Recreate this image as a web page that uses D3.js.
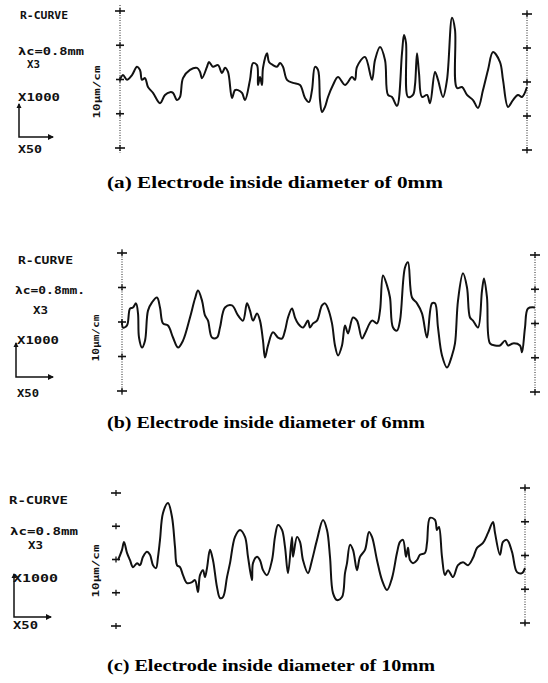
<!DOCTYPE html>
<html><head><meta charset="utf-8">
<script src="https://cdn.jsdelivr.net/npm/d3@7"></script>
<style>body{margin:0;background:#fff}svg{display:block}</style>
</head><body>
<svg id="c" width="548" height="683"></svg>
<script>
// Profile data: position along trace (arbitrary units), height in tick-units x10
const posA = [0,3,7,12,17,20,22,25,28,33,40,45,50,53,57,60,63,70,77,80,82,87,89,93,98,102,105,108,112,115,118,122,125,130,133,137,138,140,142,143,147,149,153,157,160,163,167,173,180,185,189,192,195,198,200,202,205,208,213,218,225,232,235,237,245,252,255,260,265,268,272,277,282,284,286,288,293,295,297,299,302,307,310,315,318,323,327,332,335,337,342,347,353,358,363,368,373,380,383,388,393,398,402,407];
const hA = [-0.1,1.3,-0.1,1.3,3.7,2.8,-0.1,0.4,-2.2,-3.9,-6.9,-4.5,-3.7,-3.9,-6.0,-5.1,0.4,2.8,3.4,2.2,0.4,3.7,5.1,3.7,4.2,1.9,3.4,2.2,-5.4,-3.1,-3.1,-3.9,-6.0,-0.1,4.8,4.2,-1.6,0.7,-1.6,3.4,7.7,5.1,4.2,3.7,4.8,3.7,-0.1,-1.0,-1.6,-5.4,-6.6,-3.1,3.7,2.8,-6.0,-9.5,-8.0,-5.1,-1.6,0.7,-1.6,0.7,-0.1,3.7,6.6,-0.1,5.7,9.5,5.7,-4.5,-5.1,-7.7,7.7,13.0,10.7,-5.1,-4.5,-1.6,7.7,1.9,-5.1,-4.5,-6.9,2.2,-0.1,-5.1,-0.1,18.0,14.5,-2.5,-2.2,-4.5,-6.0,-8.3,-3.1,2.8,8.0,5.1,-0.1,-8.0,-6.0,-4.5,-5.1,-2.2];

const posB = [0,1,5,8,11,14,16,17,20,23,26,30,35,38,41,46,51,56,61,68,73,76,80,83,86,90,95,98,103,110,116,121,125,128,131,135,138,141,143,146,151,156,160,163,166,170,173,176,181,186,188,191,195,200,203,206,210,213,216,220,223,226,231,235,240,243,250,255,258,261,265,268,271,275,278,283,286,290,295,300,305,310,313,316,320,325,330,333,336,341,345,348,351,356,360,362,365,368,373,378,383,386,391,398,400,403,406,413];
const hB = [0.4,-1.6,-1.0,3.9,4.2,5.4,2.5,-4.5,-7.4,-5.4,3.3,5.7,7.1,4.2,-0.4,-1.0,-4.5,-7.4,-5.4,1.3,6.8,9.1,6.2,1.9,0.4,-4.5,-4.5,-1.6,4.2,4.8,1.9,0.4,5.4,3.3,0.4,2.5,0.4,-5.4,-10.3,-6.8,-3.0,-4.5,-4.8,-2.5,1.3,3.9,1.3,-0.4,-1.6,0.4,-1.6,-0.4,0.4,4.8,5.4,3.9,-0.4,-6.8,-9.7,-6.8,-1.0,-3.3,1.3,0.4,-4.8,-3.3,0.4,-0.4,3.3,13.5,10.6,7.1,-1.6,-2.5,0.4,15.8,17.3,7.1,5.4,2.5,-4.5,5.4,5.4,-1.6,-9.7,-13.2,-9.7,-6.2,6.2,14.1,10.0,1.3,0.4,-1.6,9.1,12.6,7.1,-6.2,-6.8,-6.8,-5.4,-6.8,-6.2,-6.8,-8.8,-1.6,3.9,4.2];

const posC = [2,6,8,11,14,17,21,24,27,31,34,37,40,42,44,47,52,56,59,61,64,67,71,76,79,82,84,87,89,91,94,97,101,104,107,111,114,119,124,129,132,136,137,141,144,147,151,156,159,162,166,169,172,176,177,181,184,187,192,196,201,207,211,214,217,221,226,229,231,234,237,241,244,249,253,256,261,266,271,276,281,284,287,290,292,294,297,301,304,309,311,314,319,321,323,326,329,332,337,342,347,352,357,361,367,372,377,379,384,387,391,396,401,406,409];
const hC = [-0.2,2.9,5.3,2.0,-0.2,-2.3,-1.1,-1.7,0.8,2.3,1.4,-1.7,-2.6,0.8,5.9,14.0,17.0,12.8,3.8,-1.7,-2.3,-4.7,-7.1,-6.8,-6.2,-9.8,-4.7,-3.2,-5.3,-2.6,2.9,-0.2,-8.3,-11.6,-11.3,-5.3,-1.1,6.8,8.9,6.8,0.8,-6.2,-1.1,0.8,-0.2,-3.2,-4.7,-0.2,6.8,10.4,8.9,3.8,-4.1,6.8,0.8,6.8,5.3,-0.2,-4.1,-0.2,5.9,11.9,8.9,0.8,-10.1,-12.2,-11.3,-4.1,-1.1,4.4,2.9,-3.2,0.8,2.9,8.3,6.8,-0.2,-6.2,-9.2,-5.6,2.0,5.3,5.9,0.8,3.5,-0.2,-1.1,-0.2,1.4,2.0,5.0,12.5,11.9,8.9,9.8,0.8,-4.7,-3.2,-5.3,-1.7,-0.8,-1.7,0.5,3.5,5.0,8.0,11.3,8.0,1.4,5.3,5.9,2.3,-3.8,-4.1,-2.6];

const tickVals = [-20,-10,0,10,20];
const captions = ["(a) Electrode inside diameter of 0mm","(b) Electrode inside diameter of 6mm","(c) Electrode inside diameter of 10mm"];
const labels = ["R-CURVE","λc=0.8mm","X3","X1000","X50"];
const unitLabel = "10μm/cm";

const panels = [
  {pos:posA, h:hA, x0:120, len:407, top:11, bot:148, rx:527, rtop:14, rbot:150, leftLine:[5,153], rightLine:[10,155],
   cap:{y:188,len:336,fs:16.5}, lab:{rc:[20,19,48],lc:[18,55,66,"λc=0.8mm"],x3:[27,68,13],x1k:[18,101,42],x50:[18,153,24],ax:19,ay0:104,ay1:137,ax1:53}, vt:[100,92,53]},
  {pos:posB, h:hB, x0:122, len:413, top:253, bot:391, rx:535, rtop:255, rbot:392, leftLine:[249,396], rightLine:[252,397],
   cap:{y:428,len:318,fs:16}, lab:{rc:[18,264,55],lc:[15,294,70,"λc=0.8mm."],x3:[33,314,15],x1k:[17,344,42],x50:[17,397,22],ax:16,ay0:343,ay1:377,ax1:53}, vt:[99,338,47]},
  {pos:posC, h:hC, x0:116, len:409, top:493, bot:626, rx:525, rtop:488, rbot:623, leftLine:null, rightLine:[484,627],
   cap:{y:671,len:328,fs:17}, lab:{rc:[9,504,59],lc:[10,535,68,"λc=0.8mm"],x3:[28,549,15],x1k:[13,582,45],x50:[13,629,25],ax:14,ay0:574,ay1:617,ax1:51}, vt:[99,571,53]}
];

const svg = d3.select("#c");
const mono = "'DejaVu Sans Mono', monospace";

function crossAxis(g, scale, x, line) {
  const a = g.append("g").attr("transform", `translate(${x},0)`);
  if (line) {
    a.append("line").attr("x1",0).attr("x2",0).attr("y1",line[0]).attr("y2",line[1])
      .attr("stroke","#222").attr("stroke-width",1).attr("stroke-dasharray","1,1.5");
  }
  tickVals.forEach((t,i) => {
    const y = scale(t);
    const w = (i===0||i===tickVals.length-1) ? 5 : 4;
    a.append("line").attr("x1",-w).attr("x2",w).attr("y1",y).attr("y2",y).attr("stroke","#111").attr("stroke-width",1.6);
    a.append("line").attr("x1",0).attr("x2",0).attr("y1",y-3).attr("y2",y+3).attr("stroke","#111").attr("stroke-width",1.3);
  });
}

panels.forEach((p, k) => {
  const g = svg.append("g");
  const x = d3.scaleLinear().domain([0, p.len]).range([p.x0, p.x0 + p.len]);
  const y = d3.scaleLinear().domain([-20, 20]).range([p.bot, p.top]);
  const yr = d3.scaleLinear().domain([-20, 20]).range([p.rbot, p.rtop]);

  crossAxis(g, y, p.x0, p.leftLine);
  crossAxis(g, yr, p.rx, p.rightLine);

  const data = p.pos.map((d,i) => [d, p.h[i]]);
  const line = d3.line().x(d => x(d[0])).y(d => y(d[1])).curve(d3.curveCatmullRom.alpha(0.5));
  g.append("path").datum(data).attr("d", line)
    .attr("fill","none").attr("stroke","#111").attr("stroke-width",2).attr("stroke-linejoin","round");

  // left annotation
  const L = p.lab;
  const t = (xx,yy,txt,len) => g.append("text").attr("x",xx).attr("y",yy).text(txt)
    .attr("font-family",mono).attr("font-weight","bold").attr("font-size",10).attr("fill","#111")
    .attr("textLength",len).attr("lengthAdjust","spacingAndGlyphs");
  t(L.rc[0],L.rc[1],labels[0],L.rc[2]);
  t(L.lc[0],L.lc[1],L.lc[3],L.lc[2]);
  t(L.x3[0],L.x3[1],labels[2],L.x3[2]);
  t(L.x1k[0],L.x1k[1],labels[3],L.x1k[2]);
  t(L.x50[0],L.x50[1],labels[4],L.x50[2]);
  g.append("path").attr("d",`M${L.ax},${L.ay0}V${L.ay1}H${L.ax1}`).attr("fill","none").attr("stroke","#111").attr("stroke-width",1.5);
  g.append("path").attr("d",`M${L.ax1-5},${L.ay1-3}L${L.ax1+1},${L.ay1}L${L.ax1-5},${L.ay1+3}Z`).attr("fill","#111");
  g.append("path").attr("d",`M${L.ax-2.5},${L.ay0+4}L${L.ax},${L.ay0-1}L${L.ax+2.5},${L.ay0+4}Z`).attr("fill","#111");

  // vertical unit label
  g.append("text").attr("transform",`translate(${p.vt[0]},${p.vt[1]}) rotate(-90)`)
    .attr("text-anchor","middle").text(unitLabel)
    .attr("font-family",mono).attr("font-weight","bold").attr("font-size",9).attr("fill","#111")
    .attr("textLength",p.vt[2]).attr("lengthAdjust","spacingAndGlyphs");

  // caption
  g.append("text").attr("x",107).attr("y",p.cap.y).text(captions[k])
    .attr("font-family","'Liberation Serif', 'Times New Roman', serif").attr("font-weight","bold")
    .attr("font-size",p.cap.fs).attr("fill","#000")
    .attr("textLength",p.cap.len).attr("lengthAdjust","spacingAndGlyphs");
});
</script>
</body></html>
